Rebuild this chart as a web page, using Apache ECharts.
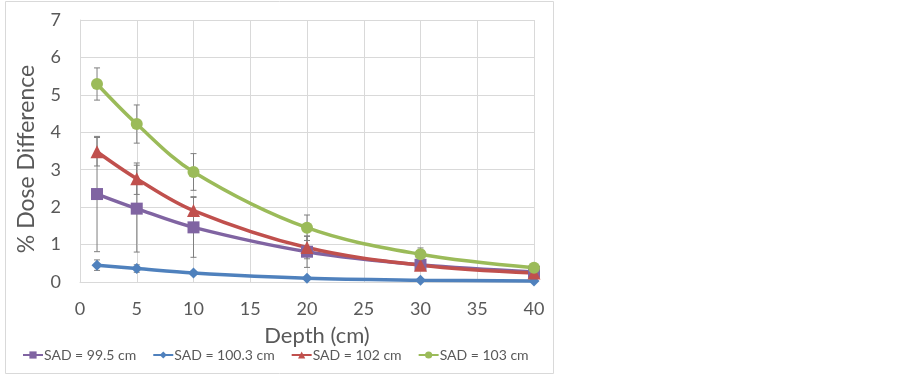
<!DOCTYPE html>
<html>
<head>
<meta charset="utf-8">
<script src="https://cdn.jsdelivr.net/npm/echarts@6/dist/echarts.min.js"></script>
<style>
  html, body { margin: 0; padding: 0; background: #fff; }
  #chart { width: 903px; height: 376px; }
</style>
</head>
<body>
<div id="chart"></div>
<script>
// depth (cm)
const depths = [1.5, 5, 10, 20, 30, 40]
// % dose difference per SAD
const sad995 = [2.35, 1.96, 1.46, 0.81, 0.46, 0.27]
const sad1003 = [0.45, 0.36, 0.24, 0.10, 0.05, 0.03]
const sad102 = [3.48, 2.76, 1.91, 0.92, 0.45, 0.24]
const sad103 = [5.29, 4.22, 2.94, 1.45, 0.74, 0.38]
// error bar half widths
const err995 = [1.54, 1.16, 0.80, 0.42, 0.05, 0.03]
const err1003 = [0.14, 0.10, 0.05, 0.03, 0.02, 0.01]
const err102 = [0.38, 0.42, 0.37, 0.30, 0.05, 0.03]
const err103 = [0.43, 0.51, 0.49, 0.34, 0.17, 0.05]
const seriesNames = ['SAD = 99.5 cm', 'SAD = 100.3 cm', 'SAD = 102 cm', 'SAD = 103 cm']

const font = 'Lato, "Open Sans", sans-serif'
const txt = '#595959'

function pairs(vals) {
    return depths.map((d, i) => [d, vals[i]])
}

function errData(vals, errs) {
    return depths.map((d, i) => [d, vals[i] - errs[i], vals[i] + errs[i]])
}

// 误差线
function errSeries(vals, errs) {
    return {
        type: 'custom',
        silent: true,
        z: 1,
        data: errData(vals, errs),
        renderItem: function (params, api) {
            const lo = api.coord([api.value(0), api.value(1)])
            const hi = api.coord([api.value(0), api.value(2)])
            const w = 3
            const st = {stroke: '#7f7f7f', lineWidth: 1}
            return {
                type: 'group',
                children: [
                    {type: 'line', shape: {x1: lo[0], y1: lo[1], x2: hi[0], y2: hi[1]}, style: st},
                    {type: 'line', shape: {x1: lo[0] - w, y1: lo[1], x2: lo[0] + w, y2: lo[1]}, style: st},
                    {type: 'line', shape: {x1: hi[0] - w, y1: hi[1], x2: hi[0] + w, y2: hi[1]}, style: st}
                ]
            }
        }
    }
}

function lineSeries(name, vals, color, symbol, size) {
    return {
        name: name,
        type: 'line',
        smooth: 0.35,
        z: 3,
        data: pairs(vals),
        symbol: symbol,
        symbolSize: size,
        showAllSymbol: true,
        lineStyle: {width: 3.5, color: color},
        itemStyle: {color: color}
    }
}

const option = {
    animation: false,
    backgroundColor: '#fff',
    graphic: [{
        type: 'rect',
        shape: {x: 5.5, y: 1.5, width: 548, height: 372},
        style: {fill: 'none', stroke: '#d9d9d9', lineWidth: 1}
    }],
    grid: {left: 80, right: 369, top: 20, bottom: 94},
    legend: {
        data: seriesNames,
        left: 22,
        top: 348,
        padding: 0,
        itemWidth: 20,
        itemHeight: 9,
        itemGap: 16,
        textStyle: {color: txt, fontFamily: font, fontSize: 14, padding: [0, 0, 0, -4]}
    },
    xAxis: {
        type: 'value',
        min: 0,
        max: 40,
        interval: 5,
        name: 'Depth (cm)',
        nameLocation: 'middle',
        nameGap: 43,
        nameTextStyle: {color: txt, fontFamily: font, fontSize: 22, padding: [0, 0, 0, 20]},
        axisLine: {lineStyle: {color: '#d9d9d9'}},
        axisTick: {show: false},
        axisLabel: {color: txt, fontFamily: font, fontSize: 18, margin: 18},
        splitLine: {lineStyle: {color: '#d9d9d9'}}
    },
    yAxis: {
        type: 'value',
        min: 0,
        max: 7,
        interval: 1,
        name: '% Dose Difference',
        nameLocation: 'middle',
        nameGap: 42,
        nameTextStyle: {color: txt, fontFamily: font, fontSize: 23, padding: [0, 16, 0, 0]},
        axisLine: {show: true, lineStyle: {color: '#d9d9d9'}},
        axisTick: {show: false},
        axisLabel: {color: txt, fontFamily: font, fontSize: 18, margin: 19},
        splitLine: {lineStyle: {color: '#d9d9d9'}}
    },
    series: [
        errSeries(sad995, err995),
        errSeries(sad1003, err1003),
        errSeries(sad102, err102),
        errSeries(sad103, err103),
        lineSeries(seriesNames[0], sad995, '#8064a2', 'rect', 12),
        lineSeries(seriesNames[1], sad1003, '#4f81bd', 'diamond', 11),
        lineSeries(seriesNames[2], sad102, '#c0504d', 'triangle', 13),
        lineSeries(seriesNames[3], sad103, '#9bbb59', 'circle', 12)
    ]
}

const chart = echarts.init(document.getElementById('chart'))
chart.setOption(option)
window.addEventListener('resize', () => chart.resize())
</script>
</body>
</html>
